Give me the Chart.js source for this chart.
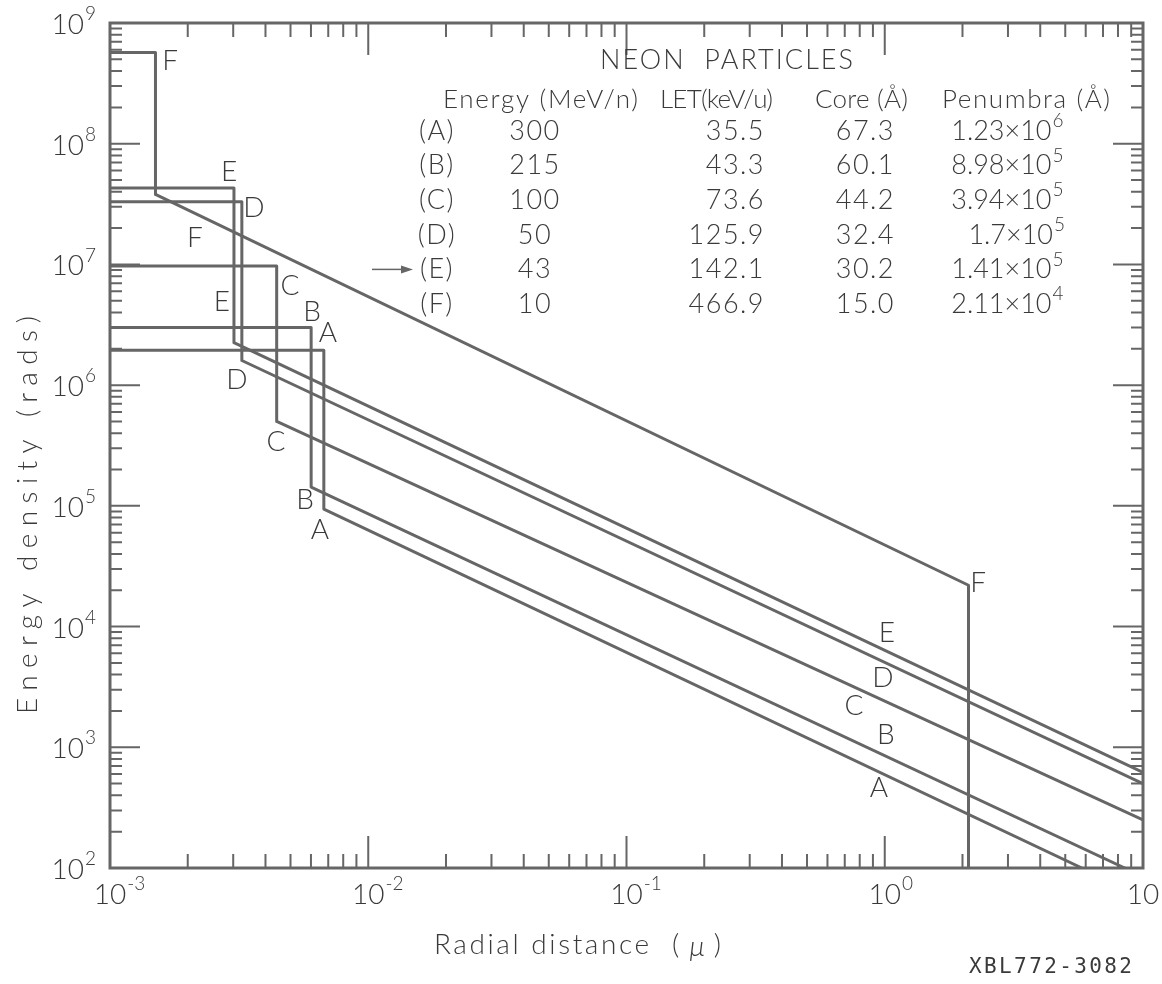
<!DOCTYPE html>
<html>
<head>
<meta charset="utf-8">
<script src="https://cdn.jsdelivr.net/npm/chart.js@4.4.1/dist/chart.umd.min.js"></script>
<style>
  html, body { margin: 0; padding: 0; background: #fff; }
  canvas { display: block; }
</style>
</head>
<body>
<canvas id="chart" width="1162" height="984"></canvas>
<script>
// table printed on the figure
const particles = ["A", "B", "C", "D", "E", "F"];
const energyMeV = ["300", "215", "100", "50", "43", "10"];
const letKeV = ["35.5", "43.3", "73.6", "125.9", "142.1", "466.9"];
const coreAng = [67.3, 60.1, 44.2, 32.4, 30.2, 15.0];
const coreText = ["67.3", "60.1", "44.2", "32.4", "30.2", "15.0"];
const penumbraMant = ["1.23", "8.98", "3.94", "1.7", "1.41", "2.11"];
const penumbraExp = [6, 5, 5, 5, 5, 4];

// dose levels (rads)
const coreDose = [1.95e6, 3.0e6, 9.7e6, 3.3e7, 4.3e7, 5.7e8];
const shellDose = [9.4e4, 1.43e5, 5.0e5, 1.6e6, 2.25e6, 3.8e7];
const endX = [5.8, 8.5, 10, 10, 10, 2.11];
const endDose = [100, 100, 250, 500, 620, 2.2e4];

// axis ticks
const xTicks = [1e-3, 1e-2, 1e-1, 1, 10];
const xTickExp = ["-3", "-2", "-1", "0", ""];
const yTicks = [1e2, 1e3, 1e4, 1e5, 1e6, 1e7, 1e8, 1e9];
const yTickExp = ["2", "3", "4", "5", "6", "7", "8", "9"];

// curve letters, in data units
const curveLabels = [
  ["F", 1.71e-3, 4.84e8], ["E", 2.89e-3, 5.83e7], ["D", 3.61e-3, 2.93e7],
  ["F", 2.13e-3, 1.65e7], ["C", 4.98e-3, 6.62e6], ["E", 2.71e-3, 4.88e6],
  ["B", 6.06e-3, 4.03e6], ["A", 6.98e-3, 2.70e6], ["D", 3.10e-3, 1.10e6],
  ["C", 4.39e-3, 3.38e5], ["B", 5.69e-3, 1.12e5], ["A", 6.50e-3, 6.3e4],
  ["F", 2.30, 2.29e4], ["E", 1.02, 8.83e3], ["D", 0.984, 3.74e3],
  ["C", 0.76, 2.19e3], ["B", 1.01, 1.26e3], ["A", 0.95, 459]
];

const FONT = "Lato, 'DejaVu Sans', sans-serif";
const INK = "#3a3a3a";
const LINE = "#666666";

const datasets = particles.map(function (p, i) {
  const rc = coreAng[i] * 1e-4; // angstrom -> micron
  const pen = Number(penumbraMant[i]) * Math.pow(10, penumbraExp[i]) * 1e-4;
  const pts = [
    { x: 1e-3, y: coreDose[i] },
    { x: rc, y: coreDose[i] },
    { x: rc, y: shellDose[i] },
    { x: endX[i], y: endDose[i] }
  ];
  if (pen < 10) pts.push({ x: pen, y: 100 });
  return { label: p, data: pts, showLine: true };
});

function fitText(ctx, text, x0, x1, y) {
  ctx.letterSpacing = "0px";
  const w = ctx.measureText(text).width;
  const ls = (x1 - x0 - w) / Math.max(1, text.length - 1);
  ctx.letterSpacing = ls + "px";
  ctx.textAlign = "left";
  ctx.fillText(text, x0, y);
  ctx.letterSpacing = "0px";
}

// "10" with a raised exponent; baseLeft is where the base text starts
function powText(ctx, base, exp, baseLeft, y, size, supSize, rise) {
  ctx.textAlign = "left";
  ctx.font = "300 " + size + "px " + FONT;
  ctx.fillText(base, baseLeft, y);
  const w = ctx.measureText(base).width;
  if (exp) {
    ctx.font = "300 " + supSize + "px " + FONT;
    ctx.fillText(exp, baseLeft + w + 1, y - rise);
  }
  return w;
}

const decor = {
  id: "decor",
  afterDraw(chart) {
    const ctx = chart.ctx;
    const a = chart.chartArea;
    const xs = chart.scales.x;
    const ys = chart.scales.y;
    ctx.save();

    // frame
    ctx.strokeStyle = LINE;
    ctx.lineWidth = 3;
    ctx.strokeRect(a.left, a.top, a.right - a.left, a.bottom - a.top);

    // inward ticks on all sides
    ctx.lineWidth = 2;
    ctx.beginPath();
    for (let e = -3; e <= 1; e++) {
      for (let m = 1; m <= 9; m++) {
        const v = m * Math.pow(10, e);
        if (v > 10.0001) break;
        const px = xs.getPixelForValue(v);
        const len = m === 1 ? 32 : 14;
        ctx.moveTo(px, a.bottom); ctx.lineTo(px, a.bottom - len);
        ctx.moveTo(px, a.top); ctx.lineTo(px, a.top + len);
      }
    }
    for (let e = 2; e <= 9; e++) {
      for (let m = 1; m <= 9; m++) {
        const v = m * Math.pow(10, e);
        if (v > 1.0001e9) break;
        const py = ys.getPixelForValue(v);
        const len = m === 1 ? 30 : 12;
        ctx.moveTo(a.left, py); ctx.lineTo(a.left + len, py);
        ctx.moveTo(a.right, py); ctx.lineTo(a.right - len, py);
      }
    }
    ctx.stroke();

    ctx.fillStyle = INK;
    ctx.textBaseline = "middle";

    // tick labels
    xTicks.forEach(function (v, i) {
      const px = xs.getPixelForValue(v);
      ctx.font = "300 28px " + FONT;
      const w = ctx.measureText("10").width;
      powText(ctx, "10", xTickExp[i], px - w / 2, a.bottom + 27, 28, 19, 11);
    });
    yTicks.forEach(function (v, i) {
      const py = ys.getPixelForValue(v);
      ctx.font = "300 28px " + FONT;
      const w = ctx.measureText("10").width;
      powText(ctx, "10", yTickExp[i], 84 - w, py + 2, 28, 19, 11);
    });

    // curve letters
    ctx.font = "300 28px " + FONT;
    ctx.textAlign = "center";
    curveLabels.forEach(function (l) {
      ctx.fillText(l[0], xs.getPixelForValue(l[1]), ys.getPixelForValue(l[2]));
    });

    // axis titles
    ctx.font = "300 28px " + FONT;
    fitText(ctx, "Radial distance", 434, 649, 945);
    ctx.textAlign = "left";
    ctx.fillText("(", 672, 945);
    ctx.textAlign = "right";
    ctx.fillText(")", 721, 945);
    ctx.font = "italic 300 28px " + FONT;
    ctx.textAlign = "center";
    ctx.fillText("\u03bc", 697, 947);

    ctx.save();
    ctx.translate(28, 515);
    ctx.rotate(-Math.PI / 2);
    ctx.font = "300 28px " + FONT;
    fitText(ctx, "Energy density (rads)", -199, 199, 0);
    ctx.restore();

    ctx.font = "21px 'DejaVu Sans Mono', monospace";
    fitText(ctx, "XBL772-3082", 969, 1132, 968);

    // table
    ctx.font = "300 27px " + FONT;
    fitText(ctx, "NEON  PARTICLES", 600, 853, 60);
    ctx.font = "300 26px " + FONT;
    fitText(ctx, "Energy (MeV/n)", 443, 638, 100);
    fitText(ctx, "LET(keV/u)", 660, 773, 100);
    fitText(ctx, "Core (\u00c5)", 815, 908, 100);
    fitText(ctx, "Penumbra (\u00c5)", 942, 1110, 100);

    particles.forEach(function (p, i) {
      const y = 131 + 34.6 * i;
      ctx.font = "300 27px " + FONT;
      ctx.letterSpacing = "1.5px";
      ctx.textAlign = "center";
      ctx.fillText("(" + p + ")", 437, y);
      ctx.fillText(energyMeV[i], 535, y);
      ctx.textAlign = "right";
      ctx.fillText(letKeV[i], 765, y);
      ctx.fillText(coreText[i], 895, y);
      const base = penumbraMant[i] + "\u00d710";
      const w = ctx.measureText(base).width;
      ctx.letterSpacing = "0px";
      powText(ctx, base, String(penumbraExp[i]), 1062 - w, y, 27, 19, 10);
    });

    // arrow pointing at row E
    const ay = 131 + 34.6 * 4;
    ctx.strokeStyle = LINE;
    ctx.lineWidth = 1.5;
    ctx.beginPath();
    ctx.moveTo(372, ay); ctx.lineTo(404, ay);
    ctx.stroke();
    ctx.fillStyle = LINE;
    ctx.beginPath();
    ctx.moveTo(413, ay); ctx.lineTo(401, ay - 4); ctx.lineTo(401, ay + 4);
    ctx.closePath();
    ctx.fill();

    ctx.restore();
  }
};

new Chart(document.getElementById("chart").getContext("2d"), {
  type: "scatter",
  data: { datasets: datasets },
  options: {
    responsive: false,
    animation: false,
    layout: { padding: { left: 110, top: 23, right: 19, bottom: 116 } },
    plugins: { legend: { display: false }, tooltip: { enabled: false } },
    elements: {
      point: { radius: 0 },
      line: { borderWidth: 3, borderColor: LINE, tension: 0, borderJoinStyle: "round", borderCapStyle: "round" }
    },
    scales: {
      x: {
        type: "logarithmic", min: 1e-3, max: 10,
        ticks: { display: false },
        grid: { display: false, drawTicks: false },
        border: { display: false }
      },
      y: {
        type: "logarithmic", min: 1e2, max: 1e9,
        ticks: { display: false },
        grid: { display: false, drawTicks: false },
        border: { display: false }
      }
    }
  },
  plugins: [decor]
});
</script>
</body>
</html>
